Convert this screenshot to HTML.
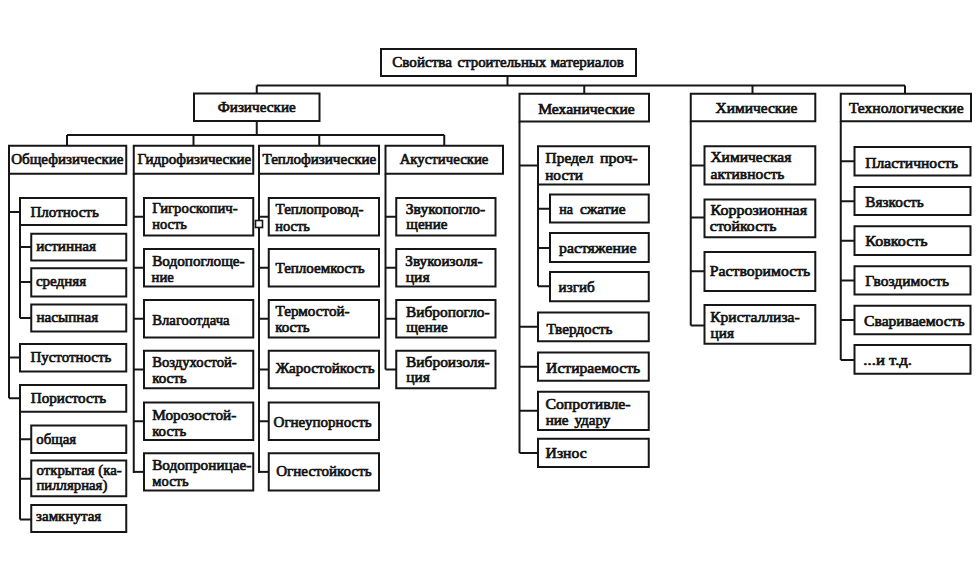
<!DOCTYPE html>
<html><head><meta charset="utf-8"><style>
html,body{margin:0;padding:0;background:#fff;width:980px;height:588px;overflow:hidden}
svg{display:block}
.g rect,.g line{fill:none;stroke:#161616;stroke-width:2}
.tx text{font-family:"Liberation Serif",serif;font-size:15.5px;fill:#111;stroke:#111;stroke-width:0.7px}
</style></head><body>
<svg width="980" height="588" viewBox="0 0 980 588">
<g class="g">
<rect x="381" y="49" width="255" height="27"/>
<rect x="194" y="93.5" width="125.5" height="27.5"/>
<rect x="519.5" y="93.75" width="129.5" height="27.75"/>
<rect x="690.75" y="93.75" width="124.55" height="27.5"/>
<rect x="840.75" y="93.75" width="130.25" height="27.5"/>
<rect x="9" y="145.75" width="117.25" height="28"/>
<rect x="133.75" y="145.75" width="119.5" height="28"/>
<rect x="259" y="145.75" width="120" height="28"/>
<rect x="385.5" y="145.75" width="117.5" height="28"/>
<rect x="20" y="198" width="106.25" height="27"/>
<rect x="31.25" y="233.75" width="95" height="26.75"/>
<rect x="31.25" y="268.25" width="95" height="28.25"/>
<rect x="31.25" y="304.5" width="95" height="27"/>
<rect x="20" y="344" width="106.25" height="27.5"/>
<rect x="20" y="385" width="106.25" height="26.75"/>
<rect x="31.25" y="425.5" width="95" height="27.5"/>
<rect x="31.25" y="460.5" width="95" height="35.75"/>
<rect x="31.25" y="505" width="95" height="27"/>
<rect x="144" y="198" width="109.25" height="37.5"/>
<rect x="144" y="249" width="109.25" height="37.5"/>
<rect x="144" y="300" width="109.25" height="37.5"/>
<rect x="144" y="350.75" width="109.25" height="37.5"/>
<rect x="144" y="402.5" width="109.25" height="37.5"/>
<rect x="144" y="453.25" width="109.25" height="37.25"/>
<rect x="268.75" y="198" width="110.25" height="37.5"/>
<rect x="268.75" y="249" width="110.25" height="37.5"/>
<rect x="268.75" y="300" width="110.25" height="37.5"/>
<rect x="268.75" y="350.75" width="110.25" height="37.5"/>
<rect x="268.75" y="402.5" width="110.25" height="37.5"/>
<rect x="268.75" y="453.25" width="110.25" height="37.25"/>
<rect x="396.25" y="198" width="99.25" height="37.5"/>
<rect x="396.25" y="249" width="99.25" height="37.5"/>
<rect x="396.25" y="300" width="99.25" height="37.5"/>
<rect x="396.25" y="350.75" width="99.25" height="37.5"/>
<rect x="538" y="146.25" width="111" height="38.25"/>
<rect x="550" y="194.5" width="98.75" height="28"/>
<rect x="550" y="233" width="98.75" height="29"/>
<rect x="550" y="272" width="98.75" height="29.25"/>
<rect x="538" y="312.5" width="110.75" height="28.75"/>
<rect x="538" y="352.5" width="110.75" height="28.25"/>
<rect x="538" y="391.75" width="110.75" height="38.25"/>
<rect x="538" y="438.75" width="110.75" height="28.25"/>
<rect x="704.5" y="146.25" width="110.8" height="38.25"/>
<rect x="704.5" y="199.5" width="110.8" height="37.75"/>
<rect x="704.5" y="252" width="110.8" height="39"/>
<rect x="704.5" y="305" width="110.8" height="38.75"/>
<rect x="854.5" y="147" width="116" height="28.5"/>
<rect x="854.5" y="187" width="116" height="28"/>
<rect x="854.5" y="226.25" width="116" height="28.75"/>
<rect x="854.5" y="266.25" width="116" height="28.25"/>
<rect x="854.5" y="305.75" width="116" height="28.5"/>
<rect x="854.5" y="345" width="116" height="28.75"/>
<line x1="507.5" y1="76" x2="507.5" y2="85.5"/>
<line x1="256.75" y1="85.5" x2="905" y2="85.5"/>
<line x1="256.75" y1="85.5" x2="256.75" y2="93.5"/>
<line x1="584.25" y1="85.5" x2="584.25" y2="93.5"/>
<line x1="752.5" y1="85.5" x2="752.5" y2="93.5"/>
<line x1="905" y1="85.5" x2="905" y2="93.5"/>
<line x1="256.75" y1="121" x2="256.75" y2="135"/>
<line x1="67" y1="135" x2="444.25" y2="135"/>
<line x1="67" y1="135" x2="67" y2="145.75"/>
<line x1="193.5" y1="135" x2="193.5" y2="145.75"/>
<line x1="319.25" y1="135" x2="319.25" y2="145.75"/>
<line x1="444.25" y1="135" x2="444.25" y2="145.75"/>
<line x1="9" y1="173.75" x2="9" y2="398.25"/>
<line x1="9" y1="212" x2="20" y2="212"/>
<line x1="20" y1="225" x2="20" y2="318.25"/>
<line x1="20" y1="247" x2="31.25" y2="247"/>
<line x1="20" y1="282" x2="31.25" y2="282"/>
<line x1="20" y1="318" x2="31.25" y2="318"/>
<line x1="9" y1="357.5" x2="20" y2="357.5"/>
<line x1="9" y1="398.25" x2="20" y2="398.25"/>
<line x1="20" y1="411.75" x2="20" y2="519.5"/>
<line x1="20" y1="439.25" x2="31.25" y2="439.25"/>
<line x1="20" y1="478.75" x2="31.25" y2="478.75"/>
<line x1="20" y1="519.5" x2="31.25" y2="519.5"/>
<line x1="133.75" y1="173.75" x2="133.75" y2="473"/>
<line x1="133.75" y1="216.75" x2="144" y2="216.75"/>
<line x1="133.75" y1="267.75" x2="144" y2="267.75"/>
<line x1="133.75" y1="318.75" x2="144" y2="318.75"/>
<line x1="133.75" y1="369.5" x2="144" y2="369.5"/>
<line x1="133.75" y1="421.25" x2="144" y2="421.25"/>
<line x1="133.75" y1="471.88" x2="144" y2="471.88"/>
<line x1="259" y1="173.75" x2="259" y2="473"/>
<line x1="259" y1="216.75" x2="268.75" y2="216.75"/>
<line x1="259" y1="267.75" x2="268.75" y2="267.75"/>
<line x1="259" y1="318.75" x2="268.75" y2="318.75"/>
<line x1="259" y1="369.5" x2="268.75" y2="369.5"/>
<line x1="259" y1="421.25" x2="268.75" y2="421.25"/>
<line x1="259" y1="471.88" x2="268.75" y2="471.88"/>
<line x1="385.5" y1="173.75" x2="385.5" y2="369.5"/>
<line x1="385.5" y1="216.75" x2="396.25" y2="216.75"/>
<line x1="385.5" y1="267.75" x2="396.25" y2="267.75"/>
<line x1="385.5" y1="318.75" x2="396.25" y2="318.75"/>
<line x1="385.5" y1="369.5" x2="396.25" y2="369.5"/>
<line x1="519.5" y1="121.5" x2="519.5" y2="453"/>
<line x1="519.5" y1="165.5" x2="538" y2="165.5"/>
<line x1="538" y1="184.5" x2="538" y2="286.25"/>
<line x1="538" y1="208.75" x2="550" y2="208.75"/>
<line x1="538" y1="248" x2="550" y2="248"/>
<line x1="538" y1="286.25" x2="550" y2="286.25"/>
<line x1="519.5" y1="326.75" x2="538" y2="326.75"/>
<line x1="519.5" y1="366.75" x2="538" y2="366.75"/>
<line x1="519.5" y1="410.75" x2="538" y2="410.75"/>
<line x1="519.5" y1="453" x2="538" y2="453"/>
<line x1="690.75" y1="121.25" x2="690.75" y2="325.5"/>
<line x1="690.75" y1="165.5" x2="704.5" y2="165.5"/>
<line x1="690.75" y1="217.5" x2="704.5" y2="217.5"/>
<line x1="690.75" y1="271.25" x2="704.5" y2="271.25"/>
<line x1="690.75" y1="325.5" x2="704.5" y2="325.5"/>
<line x1="840.75" y1="121.25" x2="840.75" y2="360"/>
<line x1="840.75" y1="161.25" x2="854.5" y2="161.25"/>
<line x1="840.75" y1="201.25" x2="854.5" y2="201.25"/>
<line x1="840.75" y1="240.75" x2="854.5" y2="240.75"/>
<line x1="840.75" y1="280.5" x2="854.5" y2="280.5"/>
<line x1="840.75" y1="320" x2="854.5" y2="320"/>
<line x1="840.75" y1="360" x2="854.5" y2="360"/>
<rect x="255.5" y="220.5" width="7" height="7" style="fill:#fff;stroke-width:1.6"/>
</g>
<g class="tx">
<text x="392.28" y="67.1" textLength="59.67" lengthAdjust="spacingAndGlyphs">Свойства</text>
<text x="457.43" y="67.1" textLength="88.87" lengthAdjust="spacingAndGlyphs">строительных</text>
<text x="550.48" y="67.1" textLength="73.27" lengthAdjust="spacingAndGlyphs">материалов</text>
<text x="217.76" y="111.6" textLength="78" lengthAdjust="spacingAndGlyphs">Физические</text>
<text x="538.21" y="113.75" textLength="96.44" lengthAdjust="spacingAndGlyphs">Механические</text>
<text x="715.6" y="113.25" textLength="81.81" lengthAdjust="spacingAndGlyphs">Химические</text>
<text x="848.93" y="113.25" textLength="114.65" lengthAdjust="spacingAndGlyphs">Технологические</text>
<text x="11.19" y="163.75" textLength="112.29" lengthAdjust="spacingAndGlyphs">Общефизические</text>
<text x="137.44" y="163.75" textLength="113.77" lengthAdjust="spacingAndGlyphs">Гидрофизические</text>
<text x="262.56" y="163.75" textLength="113.75" lengthAdjust="spacingAndGlyphs">Теплофизические</text>
<text x="399.64" y="163.75" textLength="88.81" lengthAdjust="spacingAndGlyphs">Акустические</text>
<text x="30.44" y="217" textLength="68.37" lengthAdjust="spacingAndGlyphs">Плотность</text>
<text x="36.19" y="250.75" textLength="59.95" lengthAdjust="spacingAndGlyphs">истинная</text>
<text x="35.88" y="285.75" textLength="50.38" lengthAdjust="spacingAndGlyphs">средняя</text>
<text x="36.41" y="322" textLength="61.73" lengthAdjust="spacingAndGlyphs">насыпная</text>
<text x="30.44" y="362" textLength="80.81" lengthAdjust="spacingAndGlyphs">Пустотность</text>
<text x="30.76" y="402.75" textLength="75.47" lengthAdjust="spacingAndGlyphs">Пористость</text>
<text x="36.36" y="443.75" textLength="39.79" lengthAdjust="spacingAndGlyphs">общая</text>
<text x="36.59" y="474.5" textLength="85.08" lengthAdjust="spacingAndGlyphs">открытая&#160;(ка-</text>
<text x="36.4" y="489.8" textLength="70.95" lengthAdjust="spacingAndGlyphs">пиллярная)</text>
<text x="36.05" y="521.25" textLength="65.18" lengthAdjust="spacingAndGlyphs">замкнутая</text>
<text x="152.22" y="212.8" textLength="85.37" lengthAdjust="spacingAndGlyphs">Гигроскопич-</text>
<text x="152.3" y="228.5" textLength="34.56" lengthAdjust="spacingAndGlyphs">ность</text>
<text x="152.2" y="265.8" textLength="92.47" lengthAdjust="spacingAndGlyphs">Водопоглоще-</text>
<text x="151.48" y="281.5" textLength="22.44" lengthAdjust="spacingAndGlyphs">ние</text>
<text x="152.22" y="324.75" textLength="77.41" lengthAdjust="spacingAndGlyphs">Влагоотдача</text>
<text x="152.22" y="367" textLength="84.44" lengthAdjust="spacingAndGlyphs">Воздухостой-</text>
<text x="152.17" y="383" textLength="34.48" lengthAdjust="spacingAndGlyphs">кость</text>
<text x="152.22" y="420" textLength="84.06" lengthAdjust="spacingAndGlyphs">Морозостой-</text>
<text x="152.16" y="436" textLength="34.15" lengthAdjust="spacingAndGlyphs">кость</text>
<text x="152.2" y="470" textLength="99.07" lengthAdjust="spacingAndGlyphs">Водопроницае-</text>
<text x="152.34" y="485.5" textLength="36.21" lengthAdjust="spacingAndGlyphs">мость</text>
<text x="275.56" y="214.4" textLength="88.04" lengthAdjust="spacingAndGlyphs">Теплопровод-</text>
<text x="275.3" y="231" textLength="34.56" lengthAdjust="spacingAndGlyphs">ность</text>
<text x="275.56" y="272.6" textLength="89.13" lengthAdjust="spacingAndGlyphs">Теплоемкость</text>
<text x="275.56" y="315.75" textLength="74.09" lengthAdjust="spacingAndGlyphs">Термостой-</text>
<text x="275.17" y="331.75" textLength="34.56" lengthAdjust="spacingAndGlyphs">кость</text>
<text x="275.8" y="373.25" textLength="98.76" lengthAdjust="spacingAndGlyphs">Жаростойкость</text>
<text x="273.5" y="427" textLength="98.19" lengthAdjust="spacingAndGlyphs">Огнеупорность</text>
<text x="276.19" y="476.25" textLength="95.5" lengthAdjust="spacingAndGlyphs">Огнестойкость</text>
<text x="405.82" y="213.6" textLength="79.3" lengthAdjust="spacingAndGlyphs">Звукопогло-</text>
<text x="406.32" y="229.3" textLength="41.15" lengthAdjust="spacingAndGlyphs">щение</text>
<text x="405.37" y="266.25" textLength="77.12" lengthAdjust="spacingAndGlyphs">Звукоизоля-</text>
<text x="405.66" y="282.25" textLength="23.97" lengthAdjust="spacingAndGlyphs">ция</text>
<text x="406.03" y="316.6" textLength="83.59" lengthAdjust="spacingAndGlyphs">Вибропогло-</text>
<text x="406.32" y="332.1" textLength="41.54" lengthAdjust="spacingAndGlyphs">щение</text>
<text x="405.95" y="366.6" textLength="83.73" lengthAdjust="spacingAndGlyphs">Виброизоля-</text>
<text x="406.19" y="382.1" textLength="23.59" lengthAdjust="spacingAndGlyphs">ция</text>
<text x="545.62" y="163.3" textLength="47.76" lengthAdjust="spacingAndGlyphs">Предел</text>
<text x="600.06" y="163.3" textLength="37.5" lengthAdjust="spacingAndGlyphs">проч-</text>
<text x="545.19" y="180" textLength="37.87" lengthAdjust="spacingAndGlyphs">ности</text>
<text x="559.25" y="213.6" textLength="13.73" lengthAdjust="spacingAndGlyphs">на</text>
<text x="579.89" y="213.6" textLength="45.75" lengthAdjust="spacingAndGlyphs">сжатие</text>
<text x="559.08" y="252.5" textLength="77.33" lengthAdjust="spacingAndGlyphs">растяжение</text>
<text x="558.62" y="292" textLength="36.07" lengthAdjust="spacingAndGlyphs">изгиб</text>
<text x="546.55" y="334.25" textLength="65.86" lengthAdjust="spacingAndGlyphs">Твердость</text>
<text x="546.12" y="373" textLength="94.13" lengthAdjust="spacingAndGlyphs">Истираемость</text>
<text x="545.42" y="408.5" textLength="85.12" lengthAdjust="spacingAndGlyphs">Сопротивле-</text>
<text x="545.67" y="425" textLength="22.95" lengthAdjust="spacingAndGlyphs">ние</text>
<text x="574.51" y="425" textLength="35.91" lengthAdjust="spacingAndGlyphs">удару</text>
<text x="545.58" y="458" textLength="41.07" lengthAdjust="spacingAndGlyphs">Износ</text>
<text x="710.39" y="162.2" textLength="80.91" lengthAdjust="spacingAndGlyphs">Химическая</text>
<text x="710.58" y="178.5" textLength="73.75" lengthAdjust="spacingAndGlyphs">активность</text>
<text x="710.49" y="215.1" textLength="96.53" lengthAdjust="spacingAndGlyphs">Коррозионная</text>
<text x="709.86" y="231.2" textLength="66.5" lengthAdjust="spacingAndGlyphs">стойкость</text>
<text x="709.82" y="276.2" textLength="100.49" lengthAdjust="spacingAndGlyphs">Растворимость</text>
<text x="710.2" y="322.1" textLength="89.45" lengthAdjust="spacingAndGlyphs">Кристаллиза-</text>
<text x="710.54" y="338.4" textLength="23.39" lengthAdjust="spacingAndGlyphs">ция</text>
<text x="865.25" y="167.5" textLength="92.97" lengthAdjust="spacingAndGlyphs">Пластичность</text>
<text x="865.2" y="207" textLength="58.45" lengthAdjust="spacingAndGlyphs">Вязкость</text>
<text x="865.22" y="245.5" textLength="62.42" lengthAdjust="spacingAndGlyphs">Ковкость</text>
<text x="865.21" y="286.25" textLength="83.76" lengthAdjust="spacingAndGlyphs">Гвоздимость</text>
<text x="864.08" y="326.25" textLength="100.59" lengthAdjust="spacingAndGlyphs">Свариваемость</text>
<text x="863.36" y="364.5" textLength="48.7" lengthAdjust="spacingAndGlyphs">...и&#160;т.д.</text>
</g>
</svg>
</body></html>
